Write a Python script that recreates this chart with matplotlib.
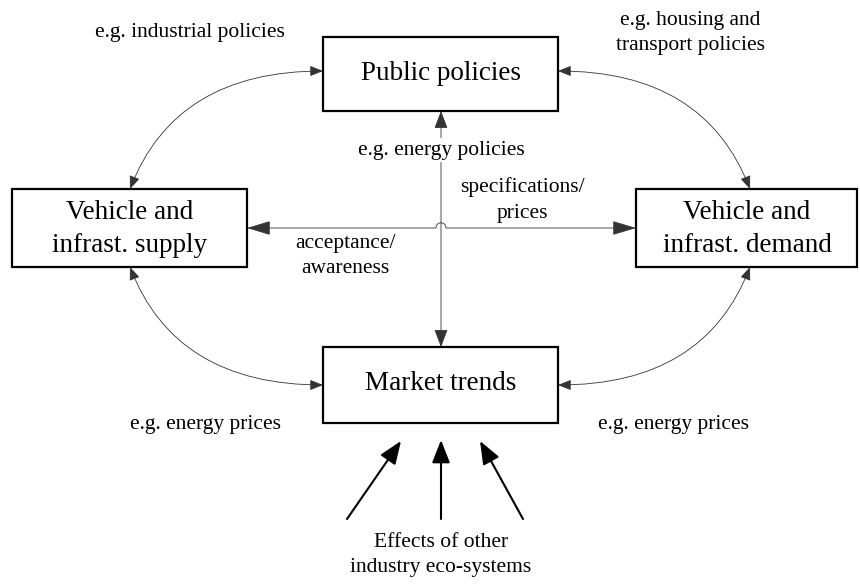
import matplotlib.pyplot as plt
from matplotlib.patches import Rectangle, FancyArrowPatch
from matplotlib.path import Path

plt.rcParams['font.family'] = ['Liberation Serif', 'DejaVu Serif']

# boxes: label, (left, top, right, bottom) in pixel space, y going down
box_labels = ['Public policies', 'Vehicle and\ninfrast. supply',
              'Vehicle and\ninfrast. demand', 'Market trends']
box_extent = [(323, 37, 558, 111), (12, 189, 247, 267),
              (636, 189, 857, 267), (323, 347, 558, 423)]
box_text_pos = [(441, 73), (130, 229), (747, 229), (441, 383)]

# small annotation texts
note_labels = ['e.g. industrial policies', 'e.g. housing and\ntransport policies',
               'e.g. energy policies', 'specifications/\nprices', 'acceptance/\nawareness',
               'e.g. energy prices', 'e.g. energy prices',
               'Effects of other\nindustry eco-systems']
note_pos = [(190, 33), (690, 33), (441, 150), (522, 200), (345, 256),
            (206, 424), (674, 424), (441, 555)]

# curved two-way links (start, end, tangent angle at start)
curves = [((130, 189), (323, 71), 69), ((750, 189), (558, 71), 111),
          ((130, 267), (323, 385), 111), ((750, 267), (558, 385), 69)]

# arrows pushing into market trends
push_tails = [(347, 519), (441, 519), (523, 519)]
push_tips = [(401, 441), (441, 440), (480, 441)]

fig = plt.figure(figsize=(8.6, 5.84), dpi=100)
ax = fig.add_axes([0, 0, 1, 1])
ax.set_xlim(0, 860)
ax.set_ylim(584, 0)
ax.axis('off')

for (x0, y0, x1, y1) in box_extent:
    ax.add_patch(Rectangle((x0, y0), x1 - x0, y1 - y0, fill=False,
                           edgecolor='black', linewidth=1.6, zorder=3))
for lab, (x, y) in zip(box_labels, box_text_pos):
    ax.text(x, y, lab, ha='center', va='center', fontsize=19.5,
            linespacing=1.45, zorder=4)

thin = dict(color='#333333', linewidth=0.6, shrinkA=0, shrinkB=0, zorder=2)

for a, b, ang in curves:
    ax.add_patch(FancyArrowPatch(a, b, connectionstyle=f'angle3,angleA={ang},angleB=0',
                                 arrowstyle='<|-|>,head_length=8,head_width=3.2',
                                 **thin))

# vertical link public policies <-> market trends
ax.add_patch(FancyArrowPatch((441, 111), (441, 347),
                             arrowstyle='<|-|>,head_length=11,head_width=4.2', **thin))

# horizontal link supply <-> demand with a hop over the vertical one
y = 228
hop = Path([(247, y), (436, y), (436, y - 7), (446, y - 7), (446, y), (636, y)],
           [Path.MOVETO, Path.LINETO, Path.CURVE4, Path.CURVE4, Path.CURVE4, Path.LINETO])
ax.add_patch(FancyArrowPatch(path=hop,
                             arrowstyle='<|-|>,head_length=15,head_width=4.5', **thin))

for t, h in zip(push_tails, push_tips):
    ax.add_patch(FancyArrowPatch(t, h, arrowstyle='-|>,head_length=14,head_width=5.5',
                                 color='black', linewidth=1.5, shrinkA=0, shrinkB=0))

for lab, (x, y) in zip(note_labels, note_pos):
    kw = {}
    if lab == 'e.g. energy policies':
        kw['bbox'] = dict(facecolor='white', edgecolor='none', pad=2)
    ax.text(x, y, lab, ha='center', va='center', fontsize=15.5,
            linespacing=1.45, zorder=5, **kw)

fig.savefig('out.png', dpi=100)
